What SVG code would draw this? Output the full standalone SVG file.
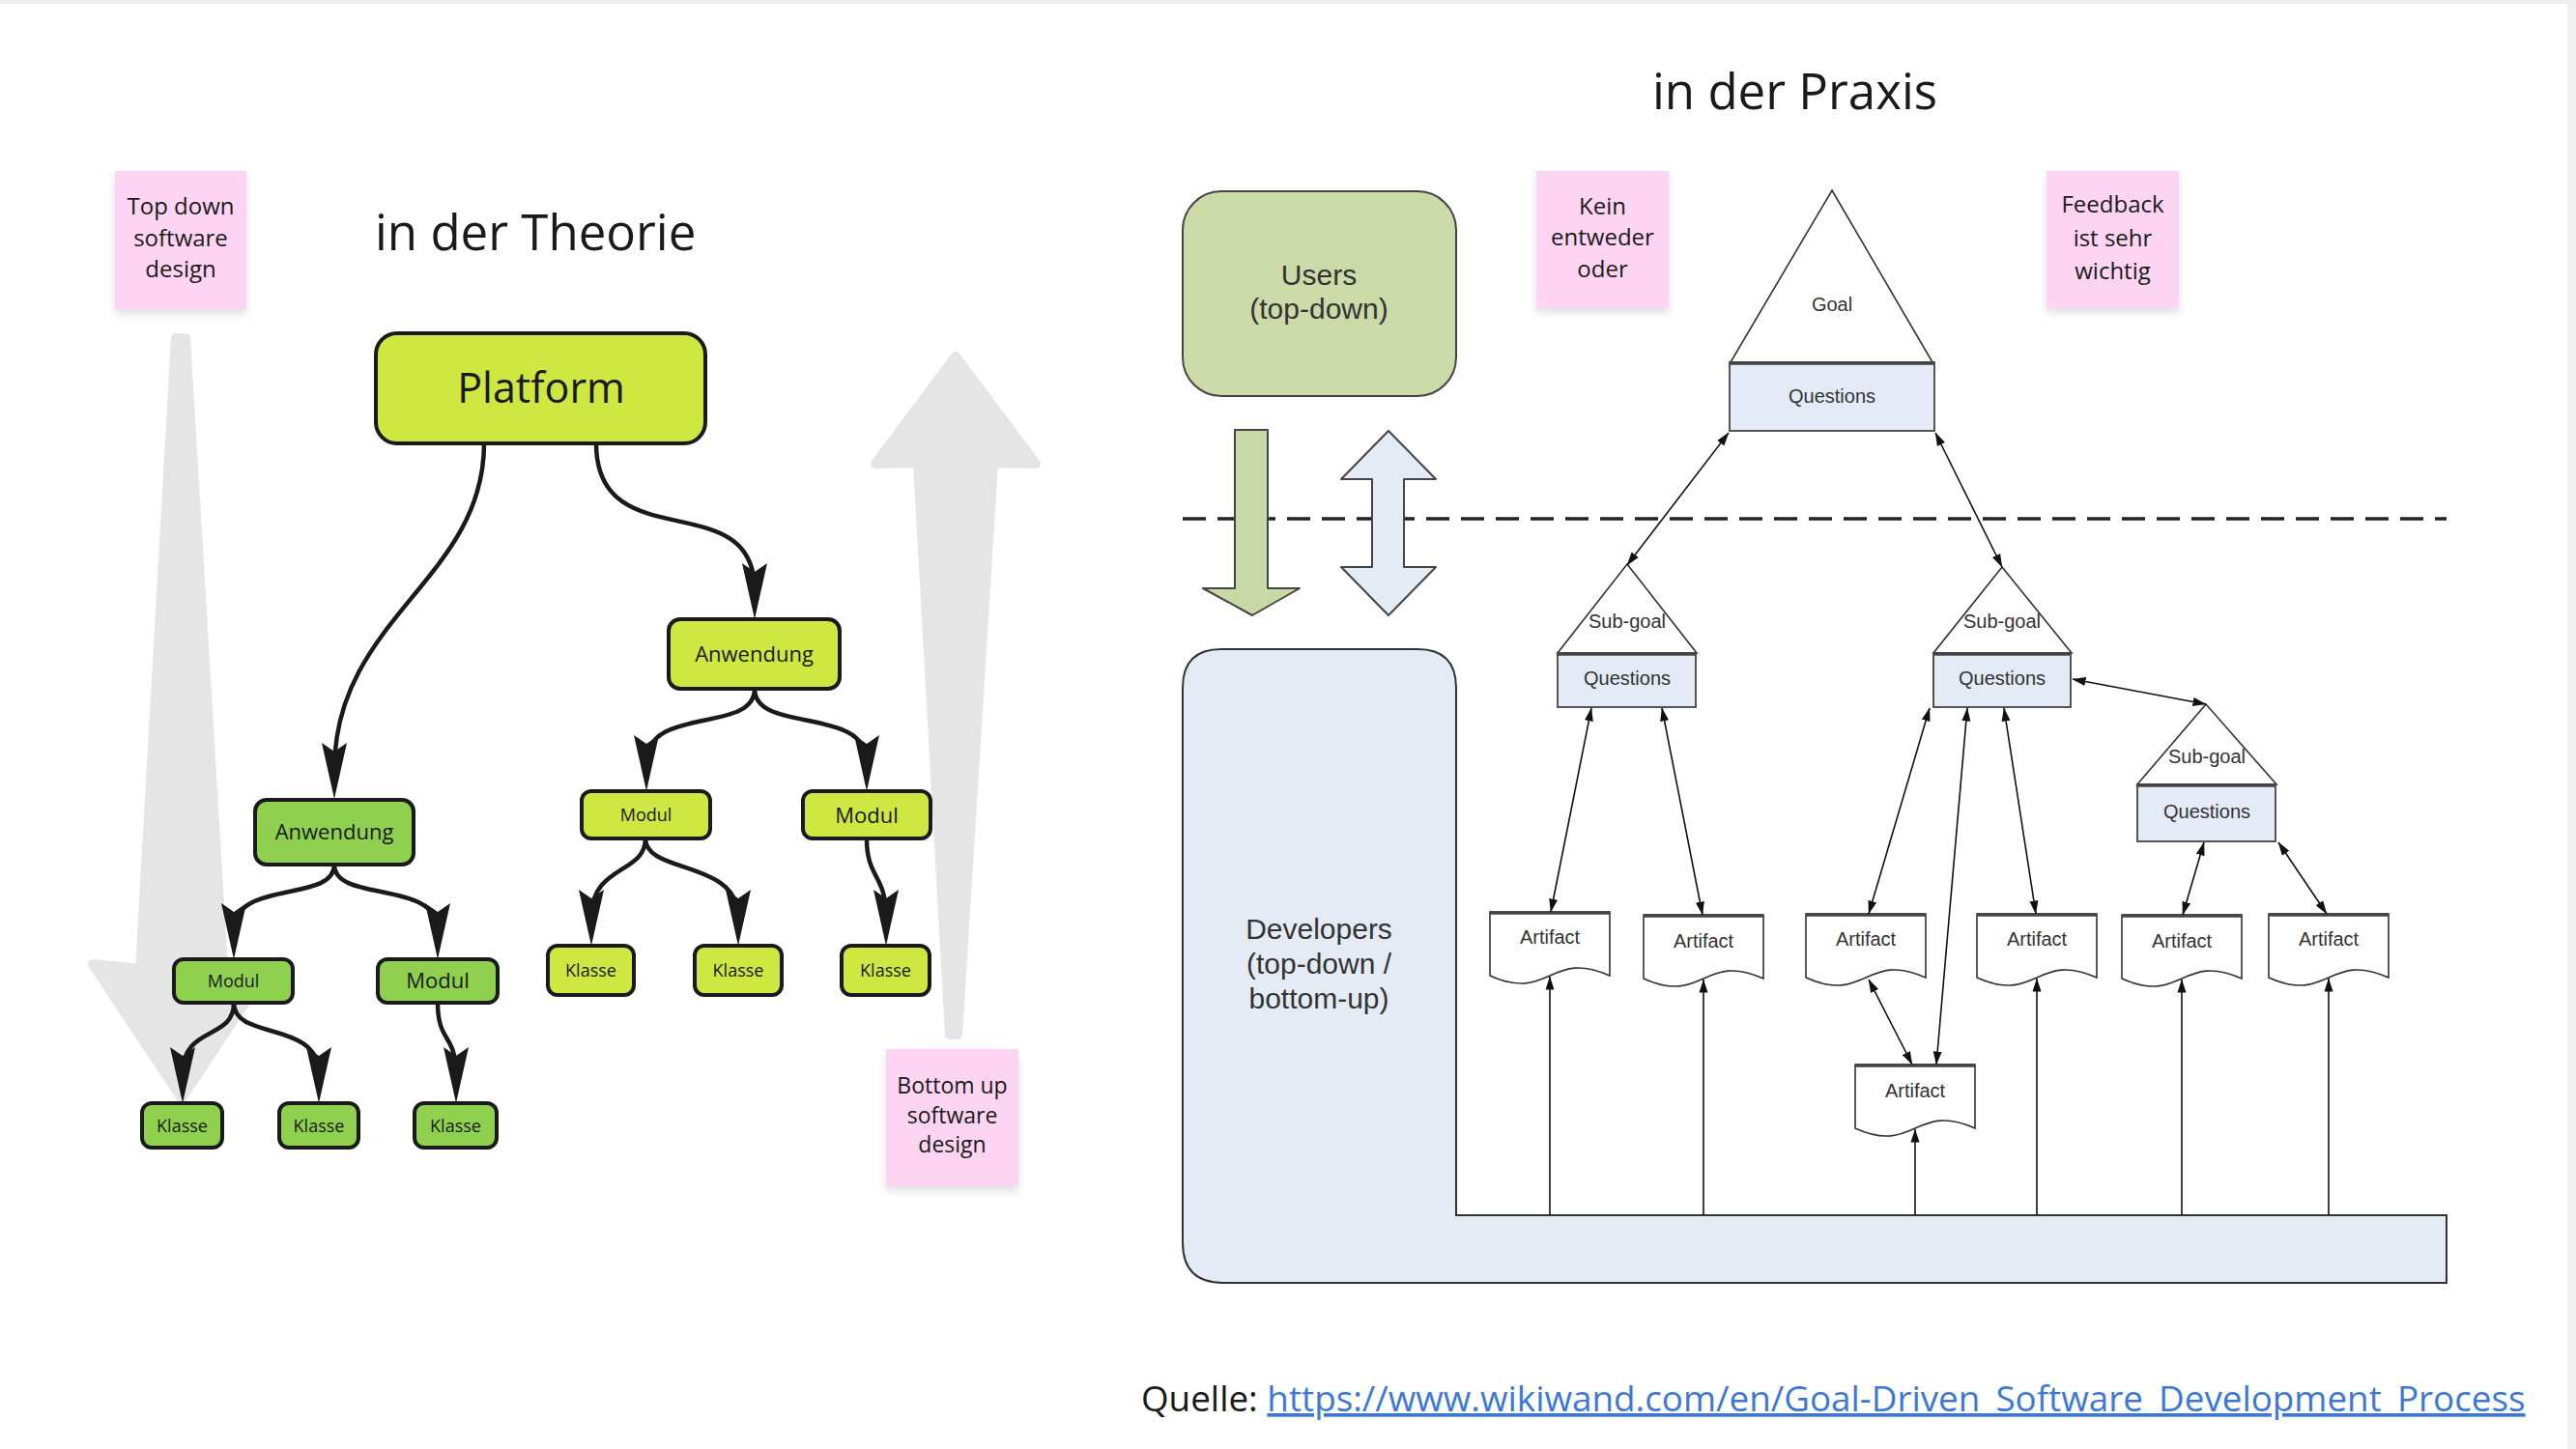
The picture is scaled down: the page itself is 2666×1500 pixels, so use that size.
<svg xmlns="http://www.w3.org/2000/svg" width="2666" height="1500" viewBox="0 0 2666 1500">
<defs>
<style>
.os{font-family:"Open Sans","Liberation Sans",sans-serif;fill:#1a1a1a;text-anchor:middle}
.ls{font-family:"Liberation Sans",Arial,sans-serif;fill:#333;text-anchor:middle}
.sticky{fill:#fdd4f1;filter:url(#sh)}
.ny{fill:#cee741;stroke:#1a1a1a;stroke-width:4}
.ng{fill:#8fd14f;stroke:#1a1a1a;stroke-width:4}
.curve{fill:none;stroke:#1a1a1a;stroke-width:4.5;marker-end:url(#big)}
.thin{fill:none;stroke:#111;stroke-width:1.6}
.bi{marker-start:url(#sm);marker-end:url(#sm)}
.one{marker-end:url(#sm)}
.tri{fill:#fff;stroke:#333;stroke-width:1.6}
.q{fill:#e4eaf6;stroke:#444;stroke-width:1.8}
.doc{fill:#fff;stroke:#333;stroke-width:1.6}
.topl{stroke:#444;stroke-width:3.5}
.gray{fill:#e5e5e5;stroke:#e5e5e5;stroke-width:10;stroke-linejoin:round}
</style>
<filter id="sh" x="-20%" y="-20%" width="140%" height="150%">
<feDropShadow dx="0" dy="5" stdDeviation="4" flood-color="#000" flood-opacity="0.12"/>
</filter>
<marker id="big" markerUnits="userSpaceOnUse" viewBox="0 0 60 28" markerWidth="60" markerHeight="28" refX="28" refY="14" orient="auto">
<path d="M58,14 L0,1 L9,14 L0,27 Z" fill="#1a1a1a"/>
</marker>
<marker id="sm" markerUnits="userSpaceOnUse" viewBox="0 0 14 10" markerWidth="14" markerHeight="10" refX="13.5" refY="5" orient="auto-start-reverse">
<path d="M0,0.5 L14,5 L0,9.5 Z" fill="#111"/>
</marker>
</defs>

<rect x="0" y="0" width="2666" height="1500" fill="#efefef"/>
<rect x="0" y="4" width="2657" height="1496" fill="#ffffff"/>

<!-- gray background arrows -->
<g id="topdown-arrow"><polygon class="gray" points="182,350 192,350 231,1003 280,998 188,1137 96,998 145,1003"/></g>
<g id="bottomup-arrow"><polygon class="gray" points="989,369 1072,480 1028,479 991,1071 983,1071 950,479 906,480"/></g>

<!-- titles -->
<text class="os" x="388" y="259" font-size="51" style="text-anchor:start">in der Theorie</text>
<text class="os" x="1710" y="113" font-size="51" style="text-anchor:start">in der Praxis</text>

<!-- sticky notes -->
<g id="sticky-topdown"><rect class="sticky" x="119" y="177" width="136" height="143"/>
<text class="os" font-size="24" x="187" y="222">Top down</text><text class="os" font-size="24" x="187" y="255">software</text><text class="os" font-size="24" x="187" y="287">design</text></g>
<g id="sticky-bottomup"><rect class="sticky" x="917" y="1086" width="137" height="142"/>
<text class="os" font-size="23" x="985.5" y="1132">Bottom up</text><text class="os" font-size="23" x="985.5" y="1163">software</text><text class="os" font-size="23" x="985.5" y="1193">design</text></g>
<g id="sticky-kein"><rect class="sticky" x="1590" y="177" width="137" height="142"/>
<text class="os" font-size="24" x="1658.5" y="222">Kein</text><text class="os" font-size="24" x="1658.5" y="254">entweder</text><text class="os" font-size="24" x="1658.5" y="287">oder</text></g>
<g id="sticky-feedback"><rect class="sticky" x="2118" y="177" width="137" height="142"/>
<text class="os" font-size="24" x="2186.5" y="220">Feedback</text><text class="os" font-size="24" x="2186.5" y="255">ist sehr</text><text class="os" font-size="24" x="2186.5" y="289">wichtig</text></g>

<!-- left tree connectors -->
<g id="theory-connectors">
<path class="curve" d="M501,459 C501,600 346,640 346,797"/>
<path class="curve" d="M617,459 C617,580 781,500 781,611"/>
<path class="curve" d="M781,713 C781,760 669,730 669,789"/>
<path class="curve" d="M781,713 C781,760 897,730 897,789"/>
<path class="curve" d="M668,868 C668,905 612,895 612,949"/>
<path class="curve" d="M668,868 C668,905 764,890 764,949"/>
<path class="curve" d="M897,868 C897,910 917,905 917,949"/>
<path class="curve" d="M346,895 C346,935 242,910 242,963"/>
<path class="curve" d="M346,895 C346,935 453,910 453,963"/>
<path class="curve" d="M242,1038 C242,1078 189,1060 189,1112"/>
<path class="curve" d="M242,1038 C242,1078 330,1055 330,1112"/>
<path class="curve" d="M453,1038 C453,1080 472,1070 472,1112"/>
</g>

<!-- left tree nodes -->
<g id="platform"><rect class="ny" x="389" y="345" width="341" height="114" rx="22"/><text class="os" x="560" y="417" font-size="43">Platform</text></g>
<g id="anwendung-y"><rect class="ny" x="692" y="641" width="177" height="72" rx="12"/><text class="os" x="780.5" y="685" font-size="22">Anwendung</text></g>
<g id="modul-y1"><rect class="ny" x="602" y="819" width="133" height="49" rx="10"/><text class="os" x="668.5" y="850" font-size="18">Modul</text></g>
<g id="modul-y2"><rect class="ny" x="831" y="819" width="132" height="49" rx="10"/><text class="os" x="897" y="851.5" font-size="22">Modul</text></g>
<g id="klasse-y1"><rect class="ny" x="567" y="979" width="89" height="51" rx="10"/><text class="os" x="611.5" y="1011" font-size="18">Klasse</text></g>
<g id="klasse-y2"><rect class="ny" x="719" y="979" width="90" height="51" rx="10"/><text class="os" x="764" y="1011" font-size="18">Klasse</text></g>
<g id="klasse-y3"><rect class="ny" x="871" y="979" width="91" height="51" rx="10"/><text class="os" x="916.5" y="1011" font-size="18">Klasse</text></g>
<g id="anwendung-g"><rect class="ng" x="264" y="828" width="164" height="67" rx="12"/><text class="os" x="346" y="869" font-size="22">Anwendung</text></g>
<g id="modul-g1"><rect class="ng" x="180" y="993" width="123" height="45" rx="10"/><text class="os" x="241.5" y="1022" font-size="18">Modul</text></g>
<g id="modul-g2"><rect class="ng" x="391" y="993" width="124" height="45" rx="10"/><text class="os" x="453" y="1023" font-size="22">Modul</text></g>
<g id="klasse-g1"><rect class="ng" x="147" y="1142" width="83" height="46" rx="10"/><text class="os" x="188.5" y="1172" font-size="18">Klasse</text></g>
<g id="klasse-g2"><rect class="ng" x="289" y="1142" width="82" height="46" rx="10"/><text class="os" x="330" y="1172" font-size="18">Klasse</text></g>
<g id="klasse-g3"><rect class="ng" x="429" y="1142" width="85" height="46" rx="10"/><text class="os" x="471.5" y="1172" font-size="18">Klasse</text></g>

<!-- right: practice -->
<line x1="1224" y1="537" x2="2532" y2="537" stroke="#222" stroke-width="3.5" stroke-dasharray="24 12"/>

<g id="users"><rect x="1224" y="198" width="283" height="212" rx="40" fill="#cbdaa6" stroke="#444" stroke-width="2"/>
<text class="ls" x="1365" y="295" font-size="30">Users</text><text class="ls" x="1365" y="330" font-size="30">(top-down)</text></g>
<g id="down-arrow"><polygon points="1278,445 1312,445 1312,609 1345,609 1296,637 1245,609 1278,609" fill="#c9d9a5" stroke="#444" stroke-width="2" stroke-linejoin="round"/></g>
<g id="updown-arrow"><polygon points="1437,446 1486,496 1453,496 1453,587 1486,587 1437,637 1388,587 1420,587 1420,496 1388,496" fill="#e4ebf5" stroke="#444" stroke-width="2" stroke-linejoin="round"/></g>

<g id="developers"><path d="M1264,672 H1467 Q1507,672 1507,712 V1258 H2532 V1328 H1266 Q1224,1328 1224,1286 V712 Q1224,672 1264,672 Z" fill="#e4ebf5" stroke="#333" stroke-width="2"/>
<text class="ls" x="1365" y="972" font-size="30">Developers</text><text class="ls" x="1365" y="1008" font-size="30">(top-down /</text><text class="ls" x="1365" y="1044" font-size="30">bottom-up)</text></g>

<g id="goal"><polygon class="tri" points="1896,197 2000,375 1791,375"/><text class="ls" x="1896" y="322" font-size="20">Goal</text>
<rect class="q" x="1790" y="375" width="212" height="71"/><line class="topl" x1="1790" y1="376" x2="2002" y2="376"/><text class="ls" x="1896" y="417" font-size="20">Questions</text></g>
<g id="subgoal-1"><polygon class="tri" points="1684,584 1756,676 1612,676"/><text class="ls" x="1684" y="650" font-size="20">Sub-goal</text>
<rect class="q" x="1612" y="676" width="143" height="56"/><line class="topl" x1="1612" y1="677" x2="1755" y2="677"/><text class="ls" x="1684" y="709" font-size="20">Questions</text></g>
<g id="subgoal-2"><polygon class="tri" points="2072,587 2144,676 2001,676"/><text class="ls" x="2072" y="650" font-size="20">Sub-goal</text>
<rect class="q" x="2001" y="676" width="142" height="56"/><line class="topl" x1="2001" y1="677" x2="2143" y2="677"/><text class="ls" x="2072" y="709" font-size="20">Questions</text></g>
<g id="subgoal-3"><polygon class="tri" points="2283,729 2356,812 2212,812"/><text class="ls" x="2284" y="790" font-size="20">Sub-goal</text>
<rect class="q" x="2212" y="812" width="143" height="59"/><line class="topl" x1="2212" y1="813" x2="2355" y2="813"/><text class="ls" x="2284" y="847" font-size="20">Questions</text></g>

<g id="artifact-1"><path class="doc" d="M1542,944 H1666 V1010 C1604,982 1604,1038 1542,1010 Z"/><line class="topl" x1="1542" y1="945" x2="1666" y2="945"/><text class="ls" x="1604" y="977" font-size="20">Artifact</text></g>
<g id="artifact-2"><path class="doc" d="M1701,947 H1825 V1013 C1763,985 1763,1041 1701,1013 Z"/><line class="topl" x1="1701" y1="948" x2="1825" y2="948"/><text class="ls" x="1763" y="981" font-size="20">Artifact</text></g>
<g id="artifact-3"><path class="doc" d="M1869,946 H1993 V1012 C1931,984 1931,1040 1869,1012 Z"/><line class="topl" x1="1869" y1="947" x2="1993" y2="947"/><text class="ls" x="1931" y="979" font-size="20">Artifact</text></g>
<g id="artifact-4"><path class="doc" d="M2046,946 H2170 V1012 C2108,984 2108,1040 2046,1012 Z"/><line class="topl" x1="2046" y1="947" x2="2170" y2="947"/><text class="ls" x="2108" y="979" font-size="20">Artifact</text></g>
<g id="artifact-5"><path class="doc" d="M2196,947 H2320 V1013 C2258,985 2258,1041 2196,1013 Z"/><line class="topl" x1="2196" y1="948" x2="2320" y2="948"/><text class="ls" x="2258" y="981" font-size="20">Artifact</text></g>
<g id="artifact-6"><path class="doc" d="M2348,946 H2472 V1012 C2410,984 2410,1040 2348,1012 Z"/><line class="topl" x1="2348" y1="947" x2="2472" y2="947"/><text class="ls" x="2410" y="979" font-size="20">Artifact</text></g>
<g id="artifact-7"><path class="doc" d="M1920,1102 H2044 V1168 C1982,1140 1982,1196 1920,1168 Z"/><line class="topl" x1="1920" y1="1103" x2="2044" y2="1103"/><text class="ls" x="1982" y="1136" font-size="20">Artifact</text></g>

<g id="practice-connectors">
<line class="thin bi" x1="1789" y1="448" x2="1684" y2="585"/>
<line class="thin bi" x1="2003" y1="448" x2="2072" y2="587"/>
<line class="thin bi" x1="2145" y1="703" x2="2283" y2="729"/>
<line class="thin bi" x1="1647" y1="733" x2="1605" y2="944"/>
<line class="thin bi" x1="1720" y1="733" x2="1762" y2="947"/>
<line class="thin bi" x1="1997" y1="733" x2="1934" y2="946"/>
<line class="thin bi" x1="2036" y1="733" x2="2004" y2="1102"/>
<line class="thin bi" x1="2074" y1="733" x2="2107" y2="946"/>
<line class="thin bi" x1="2281" y1="872" x2="2259" y2="947"/>
<line class="thin bi" x1="2358" y1="872" x2="2408" y2="946"/>
<line class="thin bi" x1="1934" y1="1014" x2="1979" y2="1102"/>
<line class="thin one" x1="1604" y1="1258" x2="1604" y2="1011"/>
<line class="thin one" x1="1763" y1="1258" x2="1763" y2="1014"/>
<line class="thin one" x1="1982" y1="1258" x2="1982" y2="1169"/>
<line class="thin one" x1="2108" y1="1258" x2="2108" y2="1013"/>
<line class="thin one" x1="2258" y1="1258" x2="2258" y2="1014"/>
<line class="thin one" x1="2410" y1="1258" x2="2410" y2="1013"/>
</g>

<text x="1181" y="1461" font-family="'Open Sans','Liberation Sans',sans-serif" font-size="36.8" fill="#1a1a1a">Quelle: <tspan fill="#3c78d8" text-decoration="underline">https://www.wikiwand.com/en/Goal-Driven_Software_Development_Process</tspan></text>
</svg>
